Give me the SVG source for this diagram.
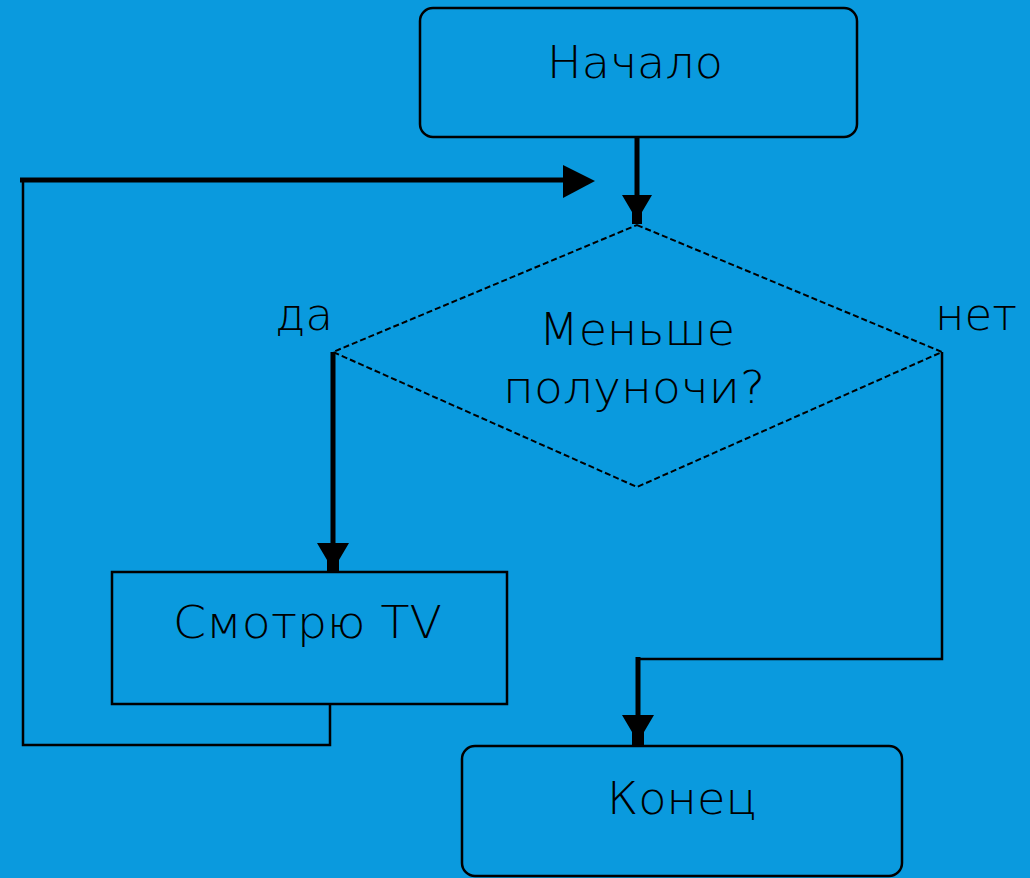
<svg xmlns="http://www.w3.org/2000/svg" width="1030" height="878" viewBox="0 0 1030 878">
<style>
.bg{fill:#0A9ADE}
.box{fill:none;stroke:#000;stroke-width:2.5}
.dia{fill:none;stroke:#000;stroke-width:2;stroke-dasharray:6 3}
.thin{fill:none;stroke:#000;stroke-width:2.5}
.thick{fill:none;stroke:#000;stroke-width:5}
.t{font-family:"DejaVu Sans","Liberation Sans",sans-serif;font-weight:200;font-size:44px;fill:#000;text-anchor:start}
.ah{fill:#000}
</style>
<rect class="bg" x="0" y="0" width="1030" height="878"/>
<g id="connectors">
<line class="thick" x1="637" y1="137" x2="637" y2="200"/>
<polygon class="ah" points="622,195 652,195 642,212 642,224 632,224 632,212"/>
<polyline class="thick" points="20,180 570,180"/>
<polygon class="ah" points="563,165 563,198 595,181"/>
<polyline class="thin" points="330,704 330,745 23,745 23,180"/>
<polyline class="thick" points="333,352 333,550"/>
<polygon class="ah" points="317,543 349,543 339,560 339,572 327,572 327,560"/>
<polyline class="thin" points="942,352 942,659 638,659"/>
<polyline class="thick" points="638,657 638,720"/>
<polygon class="ah" points="622,715 654,715 644,732 644,746 632,746 632,732"/>
</g>
<g id="start">
<rect class="box" x="420" y="8" width="437" height="129" rx="13"/>
<text class="t" x="547" y="78" textLength="176" lengthAdjust="spacingAndGlyphs">Начало</text>
</g>
<g id="decision">
<polygon class="dia" points="637,225 942,352 637,487 333,352"/>
<text class="t" x="539" y="345" textLength="196" lengthAdjust="spacingAndGlyphs">Меньше</text>
<text class="t" x="503" y="403" textLength="262" lengthAdjust="spacingAndGlyphs">полуночи?</text>
</g>
<g id="labels">
<text class="t" x="275" y="330" textLength="58" lengthAdjust="spacingAndGlyphs">да</text>
<text class="t" x="935" y="330" textLength="82" lengthAdjust="spacingAndGlyphs">нет</text>
</g>
<g id="tv">
<rect class="box" x="112" y="572" width="395" height="132"/>
<text class="t" x="173" y="638" textLength="269" lengthAdjust="spacingAndGlyphs">Смотрю TV</text>
</g>
<g id="end">
<rect class="box" x="462" y="746" width="440" height="130" rx="13"/>
<text class="t" x="607" y="814" textLength="150" lengthAdjust="spacingAndGlyphs">Конец</text>
</g>
</svg>
